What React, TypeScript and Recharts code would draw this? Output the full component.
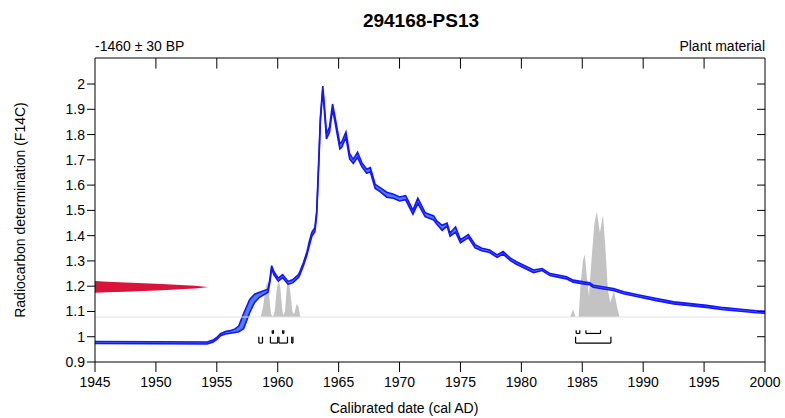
import React from 'react';
import {
  ComposedChart,
  Area,
  XAxis,
  YAxis,
  ReferenceLine,
} from 'recharts';

// calibration curve (IntCal/bomb curve)
const calYears = [
  1945, 1950, 1954.2, 1954.7, 1955.0, 1955.3, 1955.7, 1956.1, 1956.5, 1956.8,
  1957.2, 1957.7, 1958.1, 1958.5, 1959.2, 1959.35, 1959.5, 1959.7, 1960.05, 1960.4,
  1960.85, 1961.25, 1961.7, 1961.8, 1962.1, 1962.4, 1962.6, 1962.8, 1963.05, 1963.2,
  1963.4, 1963.5, 1963.7, 1963.9, 1964.0, 1964.25, 1964.5, 1964.7, 1965.1, 1965.25,
  1965.6, 1965.9, 1966.2, 1966.55, 1966.9, 1967.3, 1967.6, 1968.0, 1968.4, 1968.95,
  1969.5, 1970.0, 1970.5, 1971.1, 1971.5, 1972.1, 1972.8, 1973.05, 1973.5, 1973.9,
  1974.15, 1974.6, 1975.0, 1975.65, 1976.2, 1976.75, 1977.4, 1978.0, 1978.5, 1979.1,
  1979.6, 1980.4, 1981.0, 1981.7, 1982.35, 1983.0, 1983.7, 1984.25, 1985.1, 1985.6,
  1985.9, 1986.4, 1987.55, 1988.4, 1989.75, 1991.1, 1992.5, 1993.85, 1995.2, 1996.6,
  1998.0, 1999.3, 2000,
];
const calMid = [
  0.977, 0.976, 0.975, 0.983, 0.993, 1.008, 1.016, 1.019, 1.024, 1.031,
  1.062, 1.122, 1.152, 1.166, 1.182, 1.22, 1.275, 1.25, 1.226, 1.24,
  1.213, 1.22, 1.24, 1.25, 1.286, 1.33, 1.37, 1.405, 1.424, 1.49,
  1.73, 1.86, 1.984, 1.86, 1.793, 1.82, 1.911, 1.86, 1.753, 1.76,
  1.8, 1.714, 1.694, 1.72, 1.681, 1.655, 1.661, 1.595, 1.582, 1.562,
  1.556, 1.545, 1.55, 1.493, 1.538, 1.483, 1.47, 1.452, 1.431, 1.444,
  1.404, 1.424, 1.378, 1.398, 1.358, 1.345, 1.338, 1.319, 1.332, 1.306,
  1.292, 1.273, 1.259, 1.266, 1.246, 1.24, 1.233, 1.22, 1.213, 1.21,
  1.2, 1.196, 1.187, 1.174, 1.16, 1.147, 1.134, 1.127, 1.12, 1.111,
  1.105, 1.099, 1.097,
];
const calSpread = [
  0.004, 0.004, 0.004, 0.004, 0.004, 0.004, 0.005, 0.005, 0.007, 0.011,
  0.03, 0.026, 0.016, 0.01, 0.006, 0.006, 0.006, 0.006, 0.006, 0.006,
  0.006, 0.006, 0.006, 0.006, 0.006, 0.006, 0.008, 0.008, 0.008, 0.008,
  0.008, 0.008, 0.008, 0.01, 0.01, 0.01, 0.01, 0.01, 0.01, 0.01,
  0.01, 0.01, 0.008, 0.01, 0.008, 0.008, 0.008, 0.008, 0.008, 0.01,
  0.008, 0.008, 0.008, 0.008, 0.01, 0.008, 0.008, 0.006, 0.01, 0.006,
  0.006, 0.01, 0.006, 0.006, 0.006, 0.005, 0.005, 0.005, 0.005, 0.005,
  0.005, 0.005, 0.005, 0.004, 0.004, 0.004, 0.004, 0.004, 0.004, 0.004,
  0.004, 0.004, 0.004, 0.004, 0.004, 0.004, 0.004, 0.004, 0.004, 0.004,
  0.004, 0.004, 0.004,
];

// measured value -1460 ± 30 BP drawn on the y axis
const measYears = [1945, 1946, 1947.5, 1949, 1950.5, 1952, 1953.2, 1954.0, 1954.3];
const measLow = [1.174, 1.176, 1.178, 1.181, 1.184, 1.188, 1.191, 1.195, 1.1965];
const measHigh = [1.221, 1.218, 1.215, 1.212, 1.209, 1.205, 1.202, 1.198, 1.1965];

// calibrated probability distribution (drawn on top of the baseline)
const distBase = 1.078;
const distYears = [
  1958.6, 1958.8, 1959.0, 1959.15, 1959.3, 1959.45, 1959.6, 1959.75, 1959.9, 1960.05,
  1960.2, 1960.35, 1960.45, 1960.6, 1960.75, 1960.9, 1961.05, 1961.2, 1961.35, 1961.55,
  1961.7, 1961.85, 1962.0, 1984.0, 1984.25, 1984.45, 1984.7, 1984.85, 1985.05, 1985.2,
  1985.35, 1985.55, 1985.75, 1986.0, 1986.2, 1986.45, 1986.7, 1986.9, 1987.1, 1987.3,
  1987.6, 1987.85, 1988.05,
];
const distValues = [
  1.078, 1.12, 1.19, 1.22, 1.16, 1.09, 1.078, 1.1, 1.18, 1.22,
  1.2, 1.12, 1.085, 1.1, 1.2, 1.22, 1.17, 1.1, 1.09, 1.13,
  1.12, 1.08, 1.078, 1.078, 1.108, 1.078, 1.078, 1.2, 1.3, 1.325,
  1.25, 1.16, 1.3, 1.45, 1.496, 1.411, 1.483, 1.35, 1.187, 1.135,
  1.18, 1.12, 1.078,
];

// 68.2% and 95.4% ranges
const sigma1Ranges = [[1959.55, 1959.65], [1960.4, 1960.5], [1984.5, 1984.8], [1985.3, 1986.5]];
const sigma2Ranges = [[1958.45, 1958.75], [1959.4, 1960.0], [1960.1, 1960.8], [1961.15, 1961.25], [1984.45, 1987.35]];

const xMin = 1945;
const xMax = 2000;
const yMin = 0.9;
const yMax = 2.103;
const xTicks = [1945, 1950, 1955, 1960, 1965, 1970, 1975, 1980, 1985, 1990, 1995, 2000];
const yTicks = [0.9, 1, 1.1, 1.2, 1.3, 1.4, 1.5, 1.6, 1.7, 1.8, 1.9, 2];
const topTicks = [1950, 1955, 1960, 1965, 1970, 1975, 1980, 1985, 1990, 1995];
const rightTicks = [1, 1.1, 1.2, 1.3, 1.4, 1.5, 1.6, 1.7, 1.8, 1.9, 2];

const calData = calYears.map((x, i) => ({ x, v: [calMid[i] - calSpread[i], calMid[i] + calSpread[i]] }));
const measData = measYears.map((x, i) => ({ x, v: [measLow[i], measHigh[i]] }));
const distData = distYears.map((x, i) => ({ x, v: [distBase, distValues[i]] }));

const FONT = '"Liberation Sans", Arial, sans-serif';
const tickStyle = { fill: '#000', fontSize: 14, fontFamily: FONT };

// inner tick lengths of the frame, in data units (~10px down, ~8px left)
const TOP_TICK = 0.042;
const RIGHT_TICK = 0.65;

function bracket(r: number[], low: number, high: number, key: string) {
  const [a, b] = r;
  return [
    <ReferenceLine key={key + 'h'} segment={[{ x: a, y: low }, { x: b, y: low }]} stroke="#000" strokeWidth={1.2} />,
    <ReferenceLine key={key + 'l'} segment={[{ x: a, y: low }, { x: a, y: high }]} stroke="#000" strokeWidth={1.2} />,
    <ReferenceLine key={key + 'r'} segment={[{ x: b, y: low }, { x: b, y: high }]} stroke="#000" strokeWidth={1.2} />,
  ];
}

export default function App() {
  return (
    <div style={{ position: 'absolute', left: 0, top: 0, width: 785, height: 418, background: '#fff' }}>
      <ComposedChart width={785} height={418} margin={{ top: 58, right: 20, bottom: 0, left: 0 }}>
        <XAxis
          type="number"
          dataKey="x"
          domain={[xMin, xMax]}
          ticks={xTicks}
          allowDataOverflow
          height={56}
          tickSize={10}
          tickMargin={5}
          stroke="#000"
          tick={tickStyle}
        />
        <YAxis
          type="number"
          domain={[yMin, yMax]}
          ticks={yTicks}
          allowDataOverflow
          width={95}
          tickSize={8}
          tickMargin={2}
          stroke="#000"
          tick={tickStyle}
        />
        <ReferenceLine y={distBase} stroke="#e2e2e2" strokeWidth={1} />
        <Area
          data={distData}
          dataKey="v"
          type="linear"
          stroke="none"
          fill="#c3c3c3"
          fillOpacity={1}
          isAnimationActive={false}
        />
        <Area
          data={measData}
          dataKey="v"
          type="linear"
          stroke="none"
          fill="#d8143a"
          fillOpacity={1}
          isAnimationActive={false}
        />
        <Area
          data={calData}
          dataKey="v"
          type="linear"
          stroke="#1414ff"
          strokeWidth={1.6}
          fill="#4d7fe8"
          fillOpacity={1}
          isAnimationActive={false}
        />
        {sigma2Ranges.map((r, i) => bracket(r, 0.975, 1.0, 's2' + i))}
        {sigma1Ranges.map((r, i) => bracket(r, 1.013, 1.026, 's1' + i))}
        {/* frame: top and right edges with inward ticks */}
        <ReferenceLine segment={[{ x: xMin, y: yMax }, { x: xMax, y: yMax }]} stroke="#000" strokeWidth={1} />
        <ReferenceLine segment={[{ x: xMax, y: yMin }, { x: xMax, y: yMax }]} stroke="#000" strokeWidth={1} />
        {topTicks.map((t) => (
          <ReferenceLine key={'tt' + t} segment={[{ x: t, y: yMax }, { x: t, y: yMax - TOP_TICK }]} stroke="#000" strokeWidth={1} />
        ))}
        {rightTicks.map((t) => (
          <ReferenceLine key={'rt' + t} segment={[{ x: xMax, y: t }, { x: xMax - RIGHT_TICK, y: t }]} stroke="#000" strokeWidth={1} />
        ))}
      </ComposedChart>
      <svg
        width={785}
        height={418}
        style={{ position: 'absolute', left: 0, top: 0, pointerEvents: 'none' }}
        fontFamily={FONT}
      >
        <text x={421} y={20} textAnchor="middle" dominantBaseline="central" fontSize={19} fontWeight="bold">
          294168-PS13
        </text>
        <text x={95} y={46} dominantBaseline="central" fontSize={14}>
          -1460 ± 30 BP
        </text>
        <text x={765} y={46} textAnchor="end" dominantBaseline="central" fontSize={14}>
          Plant material
        </text>
        <text x={404} y={408} textAnchor="middle" dominantBaseline="central" fontSize={14}>
          Calibrated date (cal AD)
        </text>
        <text
          x={20}
          y={210}
          textAnchor="middle"
          dominantBaseline="central"
          fontSize={14}
          transform="rotate(-90 20 210)"
        >
          Radiocarbon determination (F14C)
        </text>
      </svg>
    </div>
  );
}
